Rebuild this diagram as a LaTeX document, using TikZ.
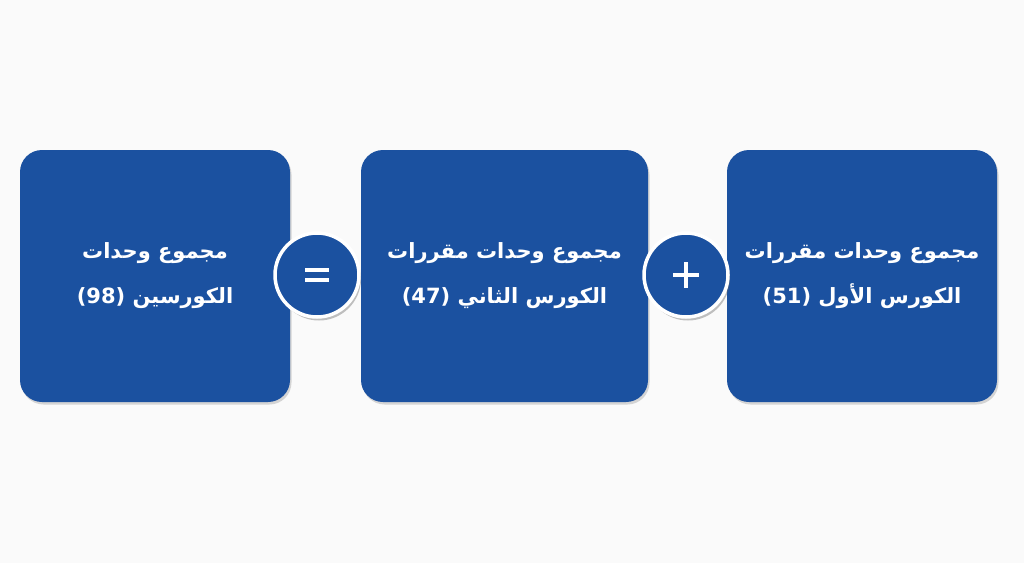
\documentclass[tikz,border=0pt]{standalone}
\usepackage{fontspec}
\newfontfamily\arabicfont[Script=Arabic]{DejaVu Sans}
\TeXXeTstate=1
\usetikzlibrary{shadows}
\definecolor{boxblue}{RGB}{27,81,160}
\definecolor{bg}{RGB}{250,250,250}
\tikzset{
  card/.style={fill=boxblue, rounded corners=22pt, minimum width=270pt, minimum height=252pt,
    inner sep=0pt, text=white, font=\arabicfont\bfseries\fontsize{21}{45}\selectfont, align=center,
    drop shadow={shadow xshift=1.5pt, shadow yshift=-2.5pt, opacity=0.25, fill=black!60}},
  opcircle/.style={circle, fill=boxblue, draw=white, line width=3.5pt, minimum size=84pt, inner sep=0pt,
    drop shadow={shadow xshift=2pt, shadow yshift=-3.5pt, opacity=0.4, fill=black!60}},
  opsign/.style={draw=white, line width=4pt}
}
\begin{document}
\begin{tikzpicture}[x=1pt,y=-1pt]
\fill[bg] (0,0) rectangle (1024,563);
\useasboundingbox (0,0) rectangle (1024,563);
\node[card] (total) at (155,276) {\beginR مجموع وحدات\endR\\\beginR الكورسين \beginL(98)\endL\endR};
\node[card, minimum width=287pt] (second) at (504.5,276) {\beginR مجموع وحدات مقررات\endR\\\beginR الكورس الثاني \beginL(47)\endL\endR};
\node[card] (first) at (862,276) {\beginR مجموع وحدات مقررات\endR\\\beginR الكورس الأول \beginL(51)\endL\endR};
\node[opcircle] (eq) at (317,275) {};
\node[opcircle] (plus) at (686,275) {};
\draw[opsign] ([shift={(-12,-5)}]eq.center) -- ([shift={(12,-5)}]eq.center);
\draw[opsign] ([shift={(-12,5)}]eq.center) -- ([shift={(12,5)}]eq.center);
\draw[opsign] ([shift={(-13,0)}]plus.center) -- ([shift={(13,0)}]plus.center);
\draw[opsign] ([shift={(0,-13)}]plus.center) -- ([shift={(0,13)}]plus.center);
\end{tikzpicture}
\end{document}
